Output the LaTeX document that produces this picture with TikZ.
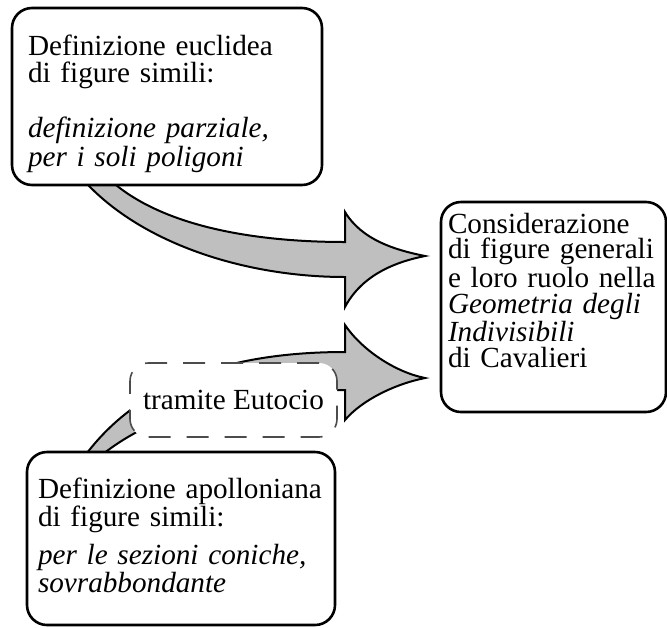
\documentclass[tikz,border=0pt]{standalone}
\usepackage{fontspec}
\setmainfont{Liberation Serif}
\usetikzlibrary{backgrounds,calc}
\tikzset{
  textbox/.style={
    rectangle, rounded corners=10pt, anchor=base west,
    line width=1.3pt, draw=black, fill=white,
    inner xsep=6.5pt, inner ysep=0pt, outer sep=0pt, align=left,
    font=\fontsize{14.6}{13.5}\selectfont
  },
  %
  viabox/.style={
    rectangle, rounded corners=9pt, minimum width=103.5pt, minimum height=37pt,
    line width=0.8pt, draw=black!70, dash pattern=on 11pt off 8pt, fill=white,
    inner sep=0pt, font=\fontsize{14.6}{13.5}\selectfont
  },
  %
  bigarrow/.style={
    draw=black, line width=1pt, fill=black!25
  }
}

\begin{document}
\begin{tikzpicture}[x=0.5pt, y=-0.5pt]
\useasboundingbox (0,0) rectangle (667,627);

\node(eucl)[textbox, inner xsep=8pt, text width=139pt, text height=23.5pt, text depth=65pt] at (12,55) {
    Definizione euclidea\\ di figure simili:\par
    \vspace{13.5pt}
    {\fontsize{14.6}{11.5}\selectfont\itshape definizione parziale,\\ per i soli poligoni\par}
};

\node(cons)[textbox, inner xsep=3.5pt, text width=105.5pt, text height=15.5pt, text depth=89.5pt, font=\fontsize{14.6}{12.9}\selectfont] at (441,233) {
    Considerazione\\ di figure generali\\ e loro ruolo nella\\ \textit{Geometria degli}\\ \textit{Indivisibili}\\ di Cavalieri
};

\node(apoll)[textbox, inner xsep=5.5pt, text width=143pt, text height=23pt, text depth=63.5pt, font=\fontsize{14.6}{13}\selectfont] at (27,498) {
    Definizione apolloniana\\ di figure simili:\par
    \vspace{4.5pt}
    {\fontsize{14.6}{12.5}\selectfont\itshape per le sezioni coniche,\\ sovrabbondante\par}
};

\node(via)[viabox] at (233.5,400) {tramite Eutocio};

\begin{pgfonlayer}{background}
\coordinate (tipA) at ($(cons.west)+(-16,-51)$);
\coordinate (tipB) at ($(cons.west)+(-16,71)$);
% upper arrow, tail hidden below eucl
\draw[bigarrow, shift={(tipA)}] (-325,-86) .. controls (-275,-31) and (-175,-14) .. (-80,-14)
    -- (-80,-44) .. controls (-63,-16) and (-30,-6) .. (0,0)
    .. controls (-30,6) and (-63,19) .. (-80,51)
    -- (-80,21) .. controls (-185,21) and (-295,-16) .. (-350,-86) -- cycle;
% lower arrow, tail hidden below apoll
\draw[bigarrow, shift={(tipB)}] (-350,92) .. controls (-305,22) and (-225,-26) .. (-80,-26)
    -- (-80,-53) .. controls (-63,-28) and (-30,-6) .. (0,0)
    .. controls (-30,6) and (-63,22) .. (-80,42)
    -- (-80,12) .. controls (-195,12) and (-285,37) .. (-340,92) -- cycle;
\end{pgfonlayer}

\end{tikzpicture}
\end{document}
